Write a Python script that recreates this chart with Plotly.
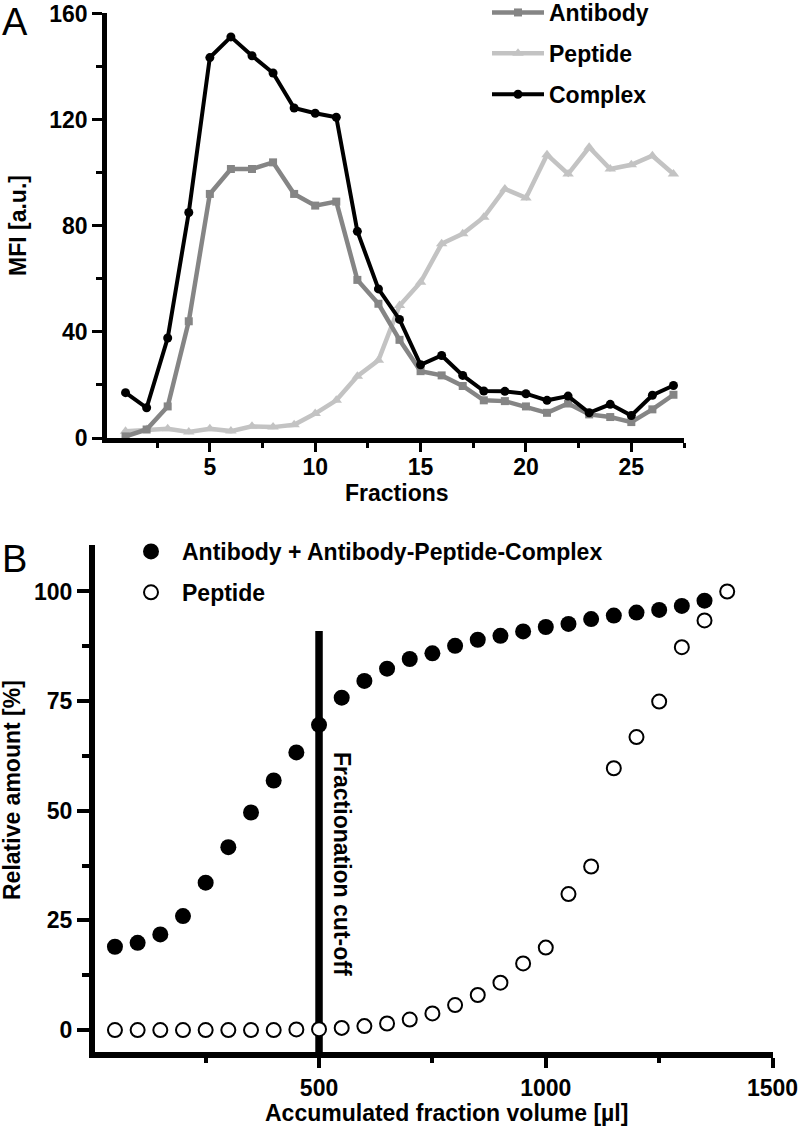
import plotly.graph_objects as go

# ---------------- Data: panel A ----------------
fractions = list(range(1, 28))
antibody_mfi = [0.6, 3.2, 11.9, 44.0, 92.0, 101.4, 101.4, 103.9, 92.0, 87.6, 89.1, 59.6, 50.6, 37.0,
                25.2, 23.6, 19.6, 14.2, 13.9, 11.9, 9.5, 13.0, 8.9, 7.9, 6.0, 10.8, 16.3]
peptide_mfi = [2.5, 3.2, 3.5, 2.3, 3.5, 2.6, 4.4, 4.1, 5.0, 9.2, 14.2, 23.3, 29.3, 49.9,
               58.7, 73.2, 77.0, 83.2, 93.9, 90.5, 106.8, 99.5, 109.6, 101.4, 103.0, 106.4, 99.5]
complex_mfi = [17.1, 11.4, 37.7, 85.0, 143.4, 151.2, 144.1, 137.6, 124.4, 122.4, 120.9, 77.9, 56.2, 44.7,
               27.6, 31.1, 23.6, 17.7, 17.6, 16.7, 14.2, 15.8, 9.5, 12.7, 8.5, 16.1, 19.8]

# ---------------- Data: panel B ----------------
volume_ab = [50, 100, 150, 200, 250, 300, 350, 400, 450, 500, 550, 600, 650, 700, 750, 800, 850,
             900, 950, 1000, 1050, 1100, 1150, 1200, 1250, 1300, 1350]
ab_complex_pct = [19.0, 19.9, 21.8, 26.0, 33.6, 41.7, 49.6, 56.9, 63.3, 69.6, 75.8, 79.6, 82.4, 84.6,
                  85.9, 87.6, 89.0, 89.9, 90.9, 91.9, 92.6, 93.7, 94.5, 95.2, 95.8, 96.7, 97.9]
volume_pep = [50, 100, 150, 200, 250, 300, 350, 400, 450, 500, 550, 600, 650, 700, 750, 800, 850,
              900, 950, 1000, 1050, 1100, 1150, 1200, 1250, 1300, 1350, 1400]
peptide_pct = [0.0, 0.0, 0.0, 0.0, 0.0, 0.0, 0.0, 0.0, 0.15, 0.2, 0.5, 0.9, 1.5, 2.4, 3.8, 5.7, 8.0,
               10.8, 15.2, 18.8, 31.0, 37.3, 59.7, 66.8, 74.9, 87.3, 93.4, 100.0]
cutoff_volume = 500
cutoff_top = 91

W, H = 798, 1127
FONT = "Liberation Sans, Arial, Helvetica, sans-serif"


def px(x):
    return x / W


def py(y):
    return 1 - y / H


fig = go.Figure()

# Panel A traces
fig.add_trace(go.Scatter(x=fractions, y=peptide_mfi, name="Peptide", mode="lines+markers",
                         line=dict(color="#c3c3c3", width=4.5),
                         marker=dict(symbol="triangle-up", size=10, color="#c3c3c3"),
                         legendrank=2, legendgroup="p", legend="legend", cliponaxis=False,
                         xaxis="x", yaxis="y"))
fig.add_trace(go.Scatter(x=fractions, y=antibody_mfi, name="Antibody", mode="lines+markers",
                         line=dict(color="#858585", width=4.5),
                         marker=dict(symbol="square", size=8, color="#858585"),
                         legendrank=1, legendgroup="a", legend="legend", cliponaxis=False,
                         xaxis="x", yaxis="y"))
fig.add_trace(go.Scatter(x=fractions, y=complex_mfi, name="Complex", mode="lines+markers",
                         line=dict(color="black", width=4),
                         marker=dict(symbol="circle", size=9, color="black"),
                         legendrank=3, legendgroup="c", legend="legend", cliponaxis=False,
                         xaxis="x", yaxis="y"))

# Panel B traces
fig.add_trace(go.Scatter(x=volume_ab, y=ab_complex_pct, name="Antibody + Antibody-Peptide-Complex",
                         mode="markers", marker=dict(symbol="circle", size=16, color="black"),
                         legend="legend2", legendgroup="b1", cliponaxis=False,
                         xaxis="x2", yaxis="y2"))
fig.add_trace(go.Scatter(x=volume_pep, y=peptide_pct, name="Peptide", mode="markers",
                         marker=dict(symbol="circle", size=14, color="white",
                                     line=dict(color="black", width=2)),
                         legend="legend2", legendgroup="b2", cliponaxis=False,
                         xaxis="x2", yaxis="y2"))

# cut-off line
fig.add_shape(type="line", xref="x2", yref="y2", x0=cutoff_volume, x1=cutoff_volume,
              y0=-5, y1=cutoff_top, line=dict(color="black", width=7.5), layer="below")

axis_common = dict(showline=True, linecolor="black", showgrid=False, zeroline=False,
                   ticks="outside", tickcolor="black", tickprefix="<b>", ticksuffix="</b>",
                   ticklabeloverflow="allow", automargin=False,
                   tickfont=dict(family=FONT, size=23, color="black"))

fig.update_layout(
    width=W, height=H,
    margin=dict(l=0, r=0, t=0, b=0, pad=0, autoexpand=False),
    paper_bgcolor="white", plot_bgcolor="white",
    font=dict(family=FONT, size=23, color="black"),
    xaxis=dict(domain=[px(107), px(684)], range=[0.12, 27.5], anchor="y",
               tick0=0, dtick=5, ticklen=9, tickwidth=3, linewidth=4.5, ticklabelstandoff=-4,
               minor=dict(dtick=2.5, tick0=0, ticklen=5, tickwidth=3, ticks="outside", tickcolor="black"),
               **axis_common),
    yaxis=dict(domain=[py(438), py(13)], range=[0, 160.2], anchor="x",
               tick0=0, dtick=40, ticklen=10, tickwidth=3, linewidth=4.5,
               minor=dict(dtick=20, tick0=0, ticklen=6, tickwidth=3, ticks="outside", tickcolor="black"),
               **axis_common),
    xaxis2=dict(domain=[px(95), px(773)], range=[6, 1501], anchor="y2",
                tick0=0, dtick=500, ticklen=10, tickwidth=4, linewidth=6,
                minor=dict(dtick=250, tick0=0, ticklen=5, tickwidth=4, ticks="outside", tickcolor="black"),
                **axis_common),
    yaxis2=dict(domain=[py(1052), py(545)], range=[-5, 110.6], anchor="x2",
                tick0=0, dtick=25, ticklen=12, tickwidth=4, linewidth=6,
                minor=dict(dtick=12.5, tick0=0, ticklen=7, tickwidth=4, ticks="outside", tickcolor="black"),
                **axis_common),
    legend=dict(x=px(487), y=py(-9), xanchor="left", yanchor="top",
                bgcolor="rgba(0,0,0,0)", borderwidth=0, tracegroupgap=8,
                font=dict(family=FONT, size=23, color="black", weight="bold"),
                itemwidth=52),
    legend2=dict(x=px(120), y=py(530), xanchor="left", yanchor="top",
                 bgcolor="rgba(0,0,0,0)", borderwidth=0, tracegroupgap=8,
                 font=dict(family=FONT, size=23, color="black", weight="bold"),
                 itemwidth=52),
    showlegend=True,
)

annots = [
    dict(text="A", x=px(0), y=py(22), xanchor="left", yanchor="middle",
         font=dict(family=FONT, size=38, color="black")),
    dict(text="B", x=px(0), y=py(559), xanchor="left", yanchor="middle",
         font=dict(family=FONT, size=38, color="black")),
    dict(text="<b>MFI [a.u.]</b>", x=px(18), y=py(226), textangle=-90, xanchor="center", yanchor="middle",
         font=dict(family=FONT, size=23, color="black")),
    dict(text="<b>Fractions</b>", x=px(397), y=py(493), xanchor="center", yanchor="middle",
         font=dict(family=FONT, size=23, color="black")),
    dict(text="<b>Relative amount [%]</b>", x=px(12), y=py(790), textangle=-90, xanchor="center", yanchor="middle",
         font=dict(family=FONT, size=23, color="black")),
    dict(text="<b>Accumulated fraction volume [µl]</b>", x=px(446), y=py(1113), xanchor="center", yanchor="middle",
         font=dict(family=FONT, size=23, color="black")),
    dict(text="<b>Fractionation cut-off</b>", x=px(342), y=py(864), textangle=90, xanchor="center", yanchor="middle",
         font=dict(family=FONT, size=23, color="black")),
]
for a in annots:
    a.update(xref="paper", yref="paper", showarrow=False)
fig.update_layout(annotations=annots)

fig.write_html("out.html", config={"displayModeBar": False},
               post_script="document.body.style.margin='0';document.body.style.overflow='hidden';")
